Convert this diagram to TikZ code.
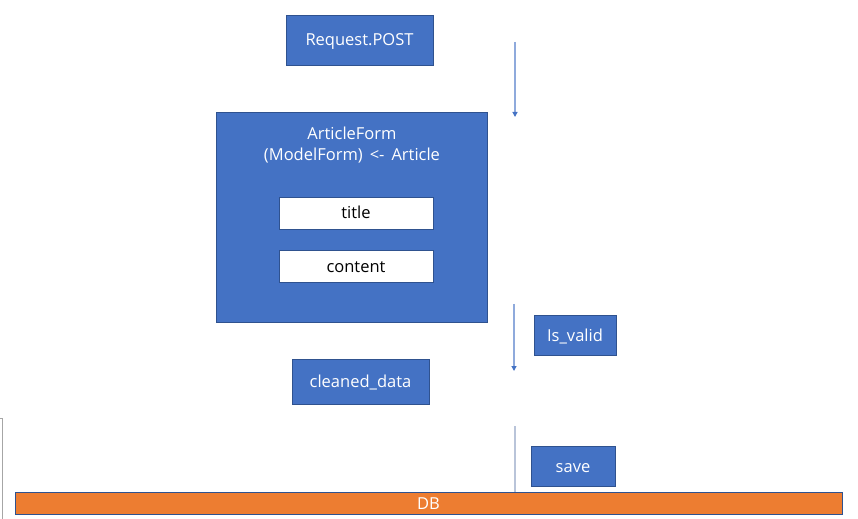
\documentclass[tikz,border=0pt]{standalone}
\usepackage{fontspec}
\setmainfont{Open Sans}
\usetikzlibrary{arrows.meta}
\definecolor{obl}{HTML}{4472C4}
\definecolor{obd}{HTML}{2F528F}
\definecolor{oor}{HTML}{ED7D31}
\definecolor{oln}{HTML}{8FAADC}
\tikzset{
  txt/.style={font=\fontsize{16.5bp}{22bp}\selectfont},
  bx/.style={txt, draw=obd, line width=0.75bp, fill=obl, text=white, inner sep=0pt, outer sep=0pt, anchor=north west, text height=12bp, text depth=0bp},
  wbx/.style={bx, fill=white, text=black},
  dbbox/.style={bx, fill=oor},
  lbl/.style={txt, text=white, inner sep=0pt, anchor=base},
  flow/.style={draw=oln, line width=1.2bp, -{Triangle[width=5bp,length=5bp,fill=obl,color=obl]}},
  flowplain/.style={draw=oln!70!gray!60, line width=1.2bp}
}
\begin{document}
\begin{tikzpicture}[x=1bp,y=-1bp]
\useasboundingbox (0,0) rectangle (858,519);
\node[bx, minimum width=147bp, minimum height=50bp] (post) at (286,15) {Request.POST};
\node[bx, minimum width=271bp, minimum height=210bp] (form) at (216,112) {};
\node[lbl] (formlbl1) at (352,139.5) {ArticleForm};
\node[lbl] (formlbl2) at (352,160.5) {(ModelForm) \,<-\, Article};
\node[wbx, minimum width=154bp, minimum height=32bp] (title) at (279,197) {title};
\node[wbx, minimum width=154bp, minimum height=32bp] (content) at (279,250) {content};
\node[bx, minimum width=82bp, minimum height=40bp] (valid) at (534,315) {Is\_valid};
\node[bx, minimum width=137bp, minimum height=45bp] (clean) at (292,359) {cleaned\_data};
\node[bx, minimum width=84bp, minimum height=40bp] (save) at (531,446) {save};
\node[dbbox, minimum width=827bp, minimum height=22bp] (db) at (15,492) {DB};
\coordinate (a1s) at (515,42);
\coordinate (a1e) at (515,117);
\coordinate (a2s) at (514,304);
\coordinate (a2e) at (514,371);
\coordinate (a3s) at (515,426);
\draw[flow] (a1s) -- (a1e);
\draw[flow] (a2s) -- (a2e);
\draw[flowplain] (a3s) -- (a3s |- db.north);
\draw[gray!70, line width=1bp] (0,418.5) -- (2.5,418.5) -- (2.5,519);
\end{tikzpicture}
\end{document}
